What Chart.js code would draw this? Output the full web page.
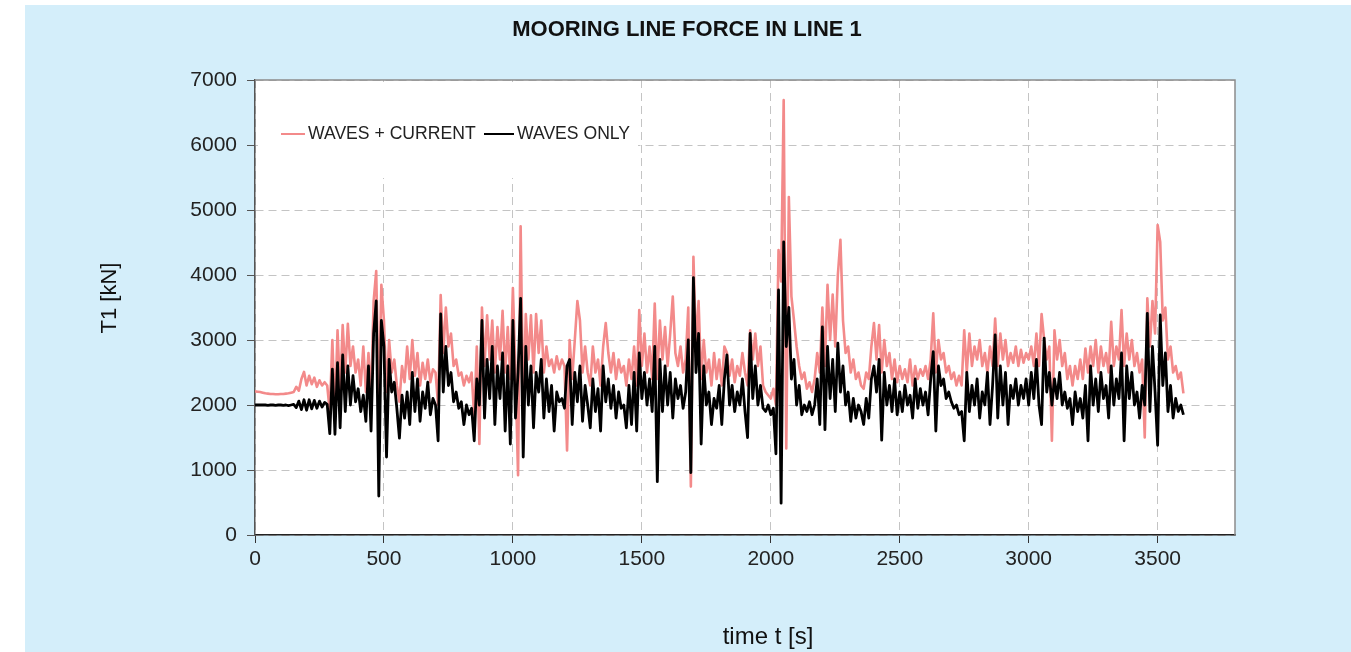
<!DOCTYPE html>
<html>
<head>
<meta charset="utf-8">
<title>Mooring line force in line 1</title>
<script src="https://cdn.jsdelivr.net/npm/chart.js@4.4.0/dist/chart.umd.min.js"></script>
<style>
  html, body { margin: 0; padding: 0; background: #ffffff; }
  #line-force { display: block; }
</style>
</head>
<body>
<canvas id="line-force" width="1351" height="652"></canvas>
<script>
// Output step of the time series [s]
var timeStep = 10;

// T1 [kN] - waves + current, one value every timeStep seconds from t = 0
var forceWavesCurrent = [
    2210, 2205, 2200, 2190, 2180, 2175, 2170, 2170, 2165, 2165,
    2170, 2170, 2175, 2180, 2190, 2200, 2280, 2220, 2400, 2510,
    2300, 2450, 2320, 2420, 2280, 2380, 2300, 2350, 2300, 1900,
    3000, 1850, 3150, 2200, 3230, 2500, 3250, 2600, 2900, 2500,
    2700, 2300, 2900, 2200, 2800, 2100, 3600, 4060, 2000, 3850,
    3300, 2200, 3000, 2500, 2700, 2300, 2050, 2600, 2350, 2900,
    2400, 3000, 2450, 2800, 2300, 2650, 2400, 2700, 2350, 2550,
    2500, 2000, 3690, 2800, 3500, 2900, 3100, 2600, 2700, 2450,
    2500, 2300, 2450, 2350, 2500, 1800, 2900, 1400, 3500, 2600,
    3380, 2700, 3300, 2500, 3200, 2700, 3450, 2500, 3200, 2400,
    3800, 2500, 920, 4750, 1900, 3400, 2700, 3380, 2500, 3400,
    2800, 3300, 2500, 2900, 2600, 2700, 2500, 2750, 2550, 2700,
    2600, 1300, 3000, 2400, 3000, 3600, 3300, 2500, 2900, 2500,
    2300, 2900, 2500, 2700, 2300, 2900, 3260, 2800, 2500, 2800,
    2400, 2700, 2500, 2600, 2300, 2700, 2400, 2900, 2300, 3460,
    2600, 3100, 2500, 2900, 2400, 3560, 2400, 3300, 2700, 3200,
    2600, 3100, 3670, 2800, 2600, 2900, 2500, 2700, 3500, 745,
    4280, 2900, 3600, 2400, 3000, 2500, 2700, 2300, 2800, 2400,
    2700, 2300, 2900, 2800, 2450, 2700, 2350, 2600, 2450, 2800,
    2500, 2300, 3150, 2700, 3100, 2600, 2900, 2300, 2200, 2150,
    2100, 2250, 2000, 4385, 3900, 6690, 1330, 5200, 3670, 3300,
    2900, 2600, 2400, 2500, 2250, 2350, 2200, 2400, 2800, 2500,
    3500, 2600, 3850, 3000, 3700, 2900, 4000, 4540, 3300, 2800,
    2900, 2500, 2700, 2400, 2500, 2300, 2250, 2500, 2400, 2900,
    3260, 2700, 3230, 2500, 3000, 2600, 2800, 2400, 2700, 2350,
    2600, 2400, 2550, 2350, 2700, 2300, 2600, 2400, 2550, 2450,
    2600, 2400, 2700, 3410, 2500, 3000, 2700, 2800, 2500, 2600,
    2400, 2500, 2300, 2450, 2300, 3150, 2500, 3100, 2600, 2900,
    2700, 3000, 2600, 2800, 2500, 2900, 2600, 3330, 2600, 3100,
    2700, 3000, 2600, 2800, 2650, 2900, 2600, 2850, 2650, 2800,
    2700, 2900, 2600, 3100, 2600, 3400, 3000, 2700, 2900, 1450,
    3150, 2700, 3000, 2600, 2800, 2400, 2600, 2300, 2600, 2400,
    2700, 2400, 2870, 2500, 2900, 2600, 3000, 2500, 2900, 2600,
    2800, 2500, 3280, 2600, 2900, 2700, 3460, 2600, 3100, 2700,
    3000, 2600, 2800, 2500, 2700, 1500, 3640, 2900, 3600, 3100,
    4770, 4510, 3300, 3500, 2700, 2900, 2500, 2600, 2400, 2500,
    2180
];

// T1 [kN] - waves only
var forceWavesOnly = [
    2000, 2000, 2000, 2000, 2000, 1995, 2000, 2000, 1995, 2000,
    2000, 1995, 2000, 1990, 2000, 2010, 1960, 2060, 1930, 2080,
    1920, 2080, 1940, 2070, 1950, 2060, 1970, 2040, 2010, 1560,
    2550, 1550, 2650, 1650, 2770, 1900, 2600, 2000, 2450, 2050,
    2250, 1900, 2150, 1750, 2600, 1600, 3100, 3600, 600, 3300,
    2900, 1200, 2700, 2200, 2350, 1950, 1490, 2150, 1800, 2200,
    1700, 2500, 1900, 2400, 1750, 2200, 1950, 2350, 1850, 2100,
    2000, 1450, 3400, 2200, 2900, 2300, 2500, 2050, 2200, 1950,
    2050, 1700, 2000, 1850, 1950, 1450, 2400, 2000, 3300, 1800,
    2700, 2100, 2900, 1700, 2600, 2100, 2800, 1600, 2600, 1400,
    3300, 1800, 2500, 3640, 1200, 2900, 2000, 2600, 1650, 2500,
    2200, 2700, 1800, 2400, 1900, 2300, 1600, 2200, 2050, 2100,
    1950, 2600, 2700, 1700, 2500, 2050, 2600, 1750, 2300, 2000,
    1650, 2400, 1900, 2250, 1600, 2600, 2050, 2400, 1950, 2300,
    1800, 2200, 1950, 2000, 1650, 2300, 1700, 2500, 1600, 2800,
    2100, 2500, 2000, 2400, 1900, 2900, 820, 2700, 1900, 2600,
    2000, 2500, 1800, 2400, 2100, 2300, 1950, 2200, 3000, 960,
    3960, 2500, 3100, 1400, 2600, 2000, 2200, 1700, 2100, 1950,
    2300, 1700, 2400, 2770, 2000, 2300, 1900, 2200, 2000, 2400,
    1900, 1500, 3100, 2100, 2600, 2000, 2300, 1950, 1900, 2000,
    1850, 1950, 1250, 3770, 490, 4510, 2900, 3500, 2400, 2700,
    2000, 2300, 1850, 2000, 1900, 2050, 1850, 2000, 2400, 1700,
    3200, 1620, 2900, 2100, 2700, 1900, 2950, 2200, 2600, 2000,
    2200, 1750, 2100, 1800, 2000, 1900, 1700, 2100, 1800, 2400,
    2600, 2200, 2700, 1460, 2500, 2000, 2300, 1900, 2400, 1850,
    2200, 1900, 2300, 2000, 2150, 1800, 2400, 1950, 2250, 2000,
    2200, 1850, 2400, 2820, 1600, 2600, 2300, 2400, 2100, 2200,
    2050, 1950, 2000, 1850, 1900, 1450, 2500, 1900, 2300, 2000,
    2400, 1800, 2200, 2000, 2500, 1700, 2300, 3080, 1800, 2600,
    2000, 2500, 1700, 2300, 2100, 2400, 2000, 2300, 2100, 2400,
    2000, 2500, 2100, 2700, 2000, 1700, 3030, 2200, 2500, 2000,
    2400, 2100, 2500, 2000, 2200, 1950, 2100, 1700, 2200, 1900,
    2100, 1800, 2300, 1450, 2600, 2000, 2400, 1900, 2500, 2100,
    2300, 1800, 2600, 2000, 2400, 2100, 2800, 1450, 2600, 2100,
    2500, 2000, 2200, 1800, 2300, 2000, 3410, 1900, 2900, 2200,
    1380, 3385, 2300, 2800, 1900, 2300, 1800, 2100, 1900, 2000,
    1850
];

var seriesLabels = ["WAVES + CURRENT", "WAVES ONLY"];
var seriesColors = ["#f38a8a", "#000000"];
var xTicks = [0, 500, 1000, 1500, 2000, 2500, 3000, 3500];
var yTicks = [0, 1000, 2000, 3000, 4000, 5000, 6000, 7000];

var chartTitle = "MOORING LINE FORCE IN LINE 1";
var xTitle = "time t [s]";
var yTitle = "T1 [kN]";

function toPoints(values) {
    return values.map(function (v, i) {
        return { x: i * timeStep, y: v };
    });
}

// Panel background, legend box, plot frame and titles
var chartFrame = {
    id: "chartFrame",
    beforeDraw: function (chart) {
        var c = chart.ctx;
        var a = chart.chartArea;
        c.save();
        c.fillStyle = "#ffffff";
        c.fillRect(0, 0, chart.width, chart.height);
        c.fillStyle = "#d4eefa";
        c.fillRect(25, 5, chart.width - 25, chart.height - 5);
        c.fillStyle = "#ffffff";
        c.fillRect(a.left, a.top, a.right - a.left, a.bottom - a.top);
        c.restore();
    },
    beforeDatasetsDraw: function (chart) {
        var c = chart.ctx;
        var a = chart.chartArea;
        c.save();
        // legend sits on a white box over the grid
        c.fillStyle = "#ffffff";
        c.fillRect(a.left + 3, a.top + 2, 380, 96);

        var ly = a.top + 54;
        var items = [
            { x: a.left + 26, w: 24, text: seriesLabels[0], color: seriesColors[0] },
            { x: a.left + 229, w: 30, text: seriesLabels[1], color: seriesColors[1] }
        ];
        c.font = "17.6px 'Liberation Sans', Arial, sans-serif";
        c.textBaseline = "middle";
        c.textAlign = "left";
        items.forEach(function (it) {
            c.strokeStyle = it.color;
            c.lineWidth = 2;
            c.beginPath();
            c.moveTo(it.x, ly);
            c.lineTo(it.x + it.w, ly);
            c.stroke();
            c.fillStyle = "#222222";
            c.fillText(it.text, it.x + it.w + 3, ly);
        });

        // top and right edges of the plot
        c.strokeStyle = "#8c8c8c";
        c.lineWidth = 1.5;
        c.beginPath();
        c.moveTo(a.left, a.top);
        c.lineTo(a.right, a.top);
        c.lineTo(a.right, a.bottom);
        c.stroke();
        c.restore();
    },
    afterDraw: function (chart) {
        var c = chart.ctx;
        c.save();
        c.fillStyle = "#111111";
        c.textAlign = "center";
        c.textBaseline = "middle";
        c.font = "bold 22px 'Liberation Sans', Arial, sans-serif";
        c.fillText(chartTitle, 687, 30);
        c.font = "24px 'Liberation Sans', Arial, sans-serif";
        c.fillText(xTitle, 768, 637);
        c.font = "22px 'Liberation Sans', Arial, sans-serif";
        c.translate(110, 298);
        c.rotate(-Math.PI / 2);
        c.fillText(yTitle, 0, 0);
        c.restore();
    }
};

window.addEventListener("load", function () {
    var ctx = document.getElementById("line-force").getContext("2d");

    Chart.defaults.font.family = "'Liberation Sans', Arial, sans-serif";

    // plain numbers on the axes, no thousands separator
    var plainTick = function (value) { return String(value); };

    // Chart Data
    var chartData = {
        datasets: [{
            label: seriesLabels[0],
            data: toPoints(forceWavesCurrent),
            borderColor: seriesColors[0],
            borderWidth: 2.6,
            order: 2
        }, {
            label: seriesLabels[1],
            data: toPoints(forceWavesOnly),
            borderColor: seriesColors[1],
            borderWidth: 2.8,
            order: 1
        }]
    };

    // Chart Options
    var chartOptions = {
        responsive: false,
        animation: false,
        events: [],
        elements: {
            point: { radius: 0 },
            line: { tension: 0, borderJoinStyle: "round" }
        },
        layout: { padding: { top: 80, left: 25, right: 116, bottom: 0 } },
        plugins: {
            legend: { display: false },
            title: { display: false },
            tooltip: { enabled: false }
        },
        scales: {
            x: {
                type: "linear",
                min: 0,
                max: 3800,
                afterBuildTicks: function (scale) {
                    scale.ticks = xTicks.map(function (v) { return { value: v }; });
                },
                afterFit: function (scale) { scale.height = 117; },
                grid: { color: "#c4c4c4", tickColor: "#333333", tickLength: 8, tickBorderDash: [] },
                border: { color: "#222222", width: 1.5, dash: [8, 5] },
                ticks: { color: "#222222", font: { size: 21 }, padding: 4, maxRotation: 0, callback: plainTick }
            },
            y: {
                type: "linear",
                min: 0,
                max: 7000,
                afterBuildTicks: function (scale) {
                    scale.ticks = yTicks.map(function (v) { return { value: v }; });
                },
                afterFit: function (scale) { scale.width = 230; },
                grid: { color: "#c4c4c4", tickColor: "#555555", tickLength: 8, tickBorderDash: [] },
                border: { color: "#555555", width: 1.5, dash: [8, 5] },
                ticks: { color: "#222222", font: { size: 21 }, padding: 10, callback: plainTick }
            }
        }
    };

    var config = {
        type: "line",
        data: chartData,
        options: chartOptions,
        plugins: [chartFrame]
    };

    // Create the chart
    var lineForceChart = new Chart(ctx, config);
});
</script>
</body>
</html>
